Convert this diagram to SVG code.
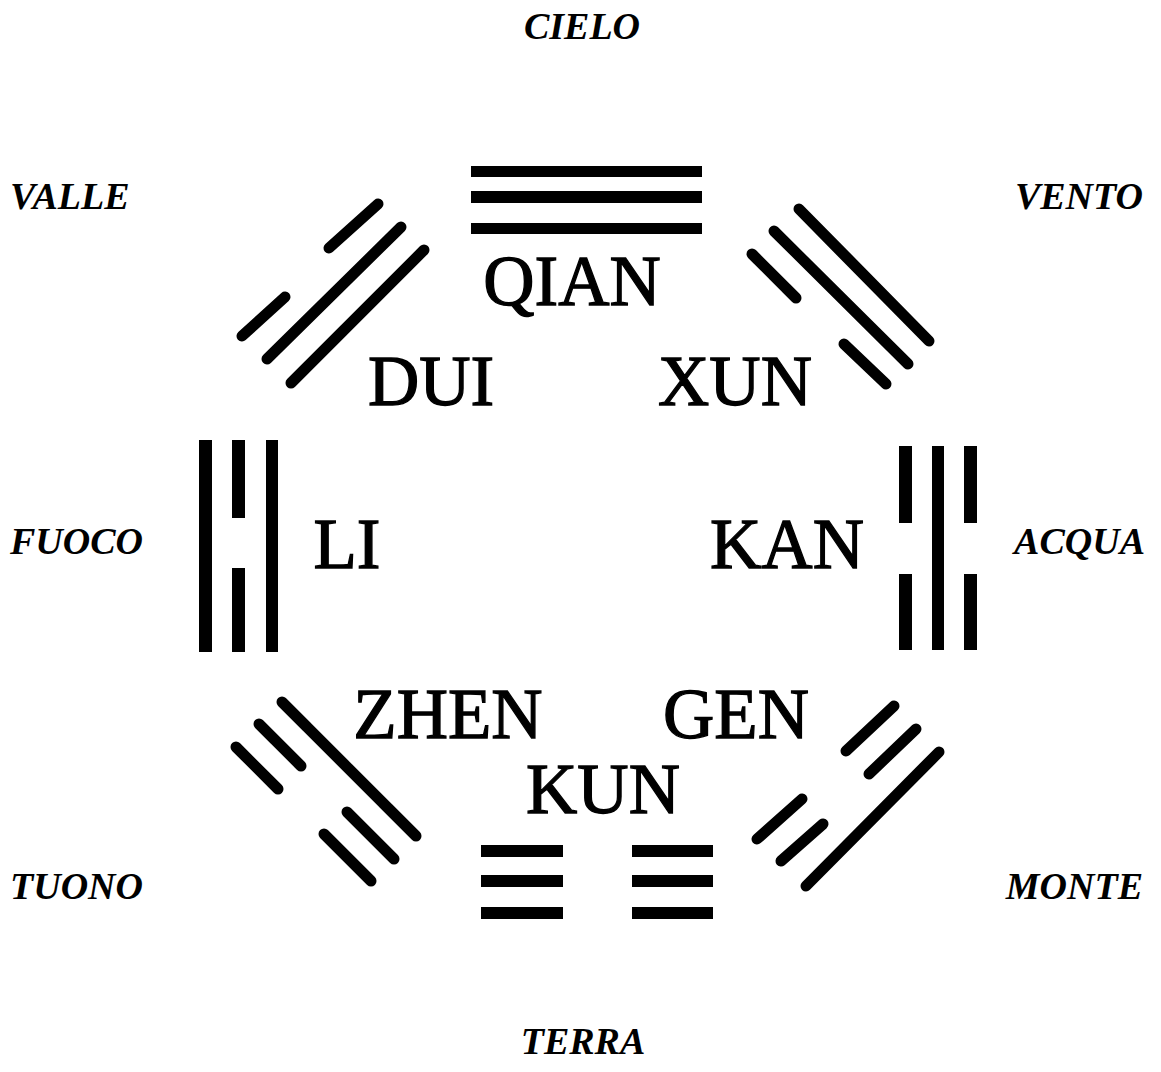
<svg xmlns="http://www.w3.org/2000/svg" width="1161" height="1072" viewBox="0 0 1161 1072">
<style>
.ln{stroke:#000;stroke-width:11;stroke-linecap:round;fill:none}
.bar{fill:#000}
.nm{font-family:"Liberation Serif","Times New Roman",serif;font-size:71px;fill:#000;stroke:#000;stroke-width:1.3;text-anchor:middle}
.el{font-family:"Liberation Serif","Times New Roman",serif;font-size:38px;font-weight:bold;font-style:italic;fill:#000}
</style>
<rect width="1161" height="1072" fill="#fff"/>
<g id="labels">
<text class="el" x="582" y="39" text-anchor="middle">CIELO</text>
<text class="el" x="10" y="209">VALLE</text>
<text class="el" x="1143" y="209" text-anchor="end">VENTO</text>
<text class="el" x="10" y="554">FUOCO</text>
<text class="el" x="1145" y="554" text-anchor="end">ACQUA</text>
<text class="el" x="10" y="899">TUONO</text>
<text class="el" x="1143" y="899" text-anchor="end">MONTE</text>
<text class="el" x="583" y="1054" text-anchor="middle">TERRA</text>
</g>
<g id="qian">
<rect class="bar" x="471" y="166" width="231" height="11"/>
<rect class="bar" x="471" y="191" width="231" height="12"/>
<rect class="bar" x="471" y="223" width="231" height="11"/>
<text class="nm" x="572" y="305">QIAN</text>
</g>
<g id="dui">
<line class="ln" x1="329" y1="248" x2="378" y2="204"/>
<line class="ln" x1="242" y1="336" x2="285" y2="297"/>
<line class="ln" x1="267" y1="359" x2="401" y2="227"/>
<line class="ln" x1="291" y1="383" x2="424" y2="250"/>
<text class="nm" x="431" y="405">DUI</text>
</g>
<g id="xun">
<line class="ln" x1="799" y1="209" x2="929" y2="341"/>
<line class="ln" x1="774" y1="231" x2="908" y2="364"/>
<line class="ln" x1="752" y1="254" x2="796" y2="298"/>
<line class="ln" x1="844" y1="344" x2="886" y2="384"/>
<text class="nm" x="735" y="405">XUN</text>
</g>
<g id="li">
<rect class="bar" x="199" y="440" width="13" height="212"/>
<rect class="bar" x="232" y="440" width="13" height="78"/>
<rect class="bar" x="232" y="568" width="13" height="84"/>
<rect class="bar" x="266" y="440" width="12" height="212"/>
<text class="nm" x="347" y="568">LI</text>
</g>
<g id="kan">
<rect class="bar" x="899" y="446" width="13" height="77"/>
<rect class="bar" x="899" y="574" width="13" height="76"/>
<rect class="bar" x="932" y="446" width="12" height="204"/>
<rect class="bar" x="964" y="446" width="13" height="77"/>
<rect class="bar" x="964" y="574" width="13" height="76"/>
<text class="nm" x="787" y="568">KAN</text>
</g>
<g id="zhen">
<line class="ln" x1="282" y1="702" x2="416" y2="836"/>
<line class="ln" x1="259" y1="724" x2="301" y2="766"/>
<line class="ln" x1="347" y1="812" x2="394" y2="859"/>
<line class="ln" x1="236" y1="747" x2="278" y2="789"/>
<line class="ln" x1="324" y1="834" x2="371" y2="881"/>
<text class="nm" x="448" y="738">ZHEN</text>
</g>
<g id="gen">
<line class="ln" x1="846" y1="751" x2="894" y2="706"/>
<line class="ln" x1="757" y1="839" x2="802" y2="799"/>
<line class="ln" x1="869" y1="774" x2="916" y2="729"/>
<line class="ln" x1="781" y1="861" x2="823" y2="824"/>
<line class="ln" x1="806" y1="886" x2="939" y2="752"/>
<text class="nm" x="736" y="738">GEN</text>
</g>
<g id="kun">
<rect class="bar" x="481" y="845" width="82" height="12"/>
<rect class="bar" x="481" y="875" width="82" height="12"/>
<rect class="bar" x="481" y="907" width="82" height="12"/>
<rect class="bar" x="632" y="845" width="81" height="12"/>
<rect class="bar" x="632" y="875" width="81" height="12"/>
<rect class="bar" x="632" y="907" width="81" height="12"/>
<text class="nm" x="603" y="813">KUN</text>
</g>
<g id="connectors"></g>
</svg>
